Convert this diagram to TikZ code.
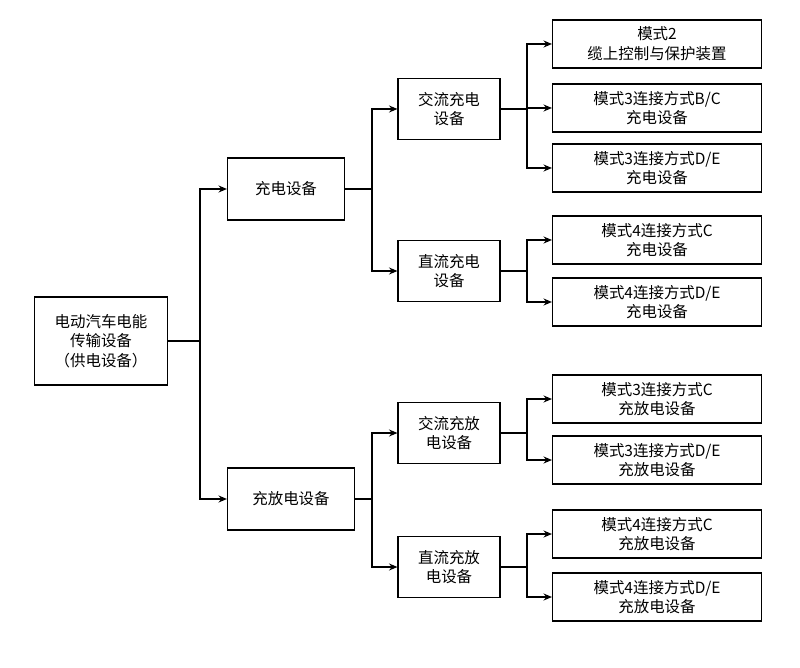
\documentclass[tikz,border=0pt]{standalone}
\usepackage{fontspec}
\setmainfont{Liberation Serif}
\newfontfamily\cjk{Noto Sans CJK SC}
\usetikzlibrary{arrows.meta,positioning}

\begin{document}
\begin{tikzpicture}[x=0.025cm,y=-0.025cm,
    box/.style={draw, thick, align=center, inner sep=2pt,
        font=\cjk\fontsize{11}{14}\selectfont},
    leaf/.style={box, minimum width=209*0.025cm, minimum height=48*0.025cm},
    mid/.style={box, minimum width=102*0.025cm, minimum height=61*0.025cm},
    link/.style={thick, -{Stealth[length=6pt,width=5pt]}}]
    \useasboundingbox (0,0) rectangle (800,668);

    % root and first level
    \node[box, minimum width=133*0.025cm, minimum height=88*0.025cm] (root) at (101,341)
        {电动汽车电能\\传输设备\\（供电设备）};
    \node[box, minimum width=117*0.025cm, minimum height=62*0.025cm] (chg) at (286,189) {充电设备};
    \node[box, minimum width=127*0.025cm, minimum height=62*0.025cm] (dis) at (291,499) {充放电设备};

    % second level
    \node[mid] (acChg) at (449,109) {交流充电\\设备};
    \node[mid] (dcChg) at (449,271) {直流充电\\设备};
    \node[mid] (acDis) at (449,433) {交流充放\\电设备};
    \node[mid] (dcDis) at (449,567) {直流充放\\电设备};

    % leaves
    \node[leaf] (l1) at (657,44) {模式2\\缆上控制与保护装置};
    \node[leaf] (l2) at (657,108) {模式3连接方式B/C\\充电设备};
    \node[leaf] (l3) at (657,168) {模式3连接方式D/E\\充电设备};
    \node[leaf] (l4) at (657,240) {模式4连接方式C\\充电设备};
    \node[leaf] (l5) at (657,302) {模式4连接方式D/E\\充电设备};
    \node[leaf] (l6) at (657,399) {模式3连接方式C\\充放电设备};
    \node[leaf] (l7) at (657,460) {模式3连接方式D/E\\充放电设备};
    \node[leaf] (l8) at (657,534) {模式4连接方式C\\充放电设备};
    \node[leaf] (l9) at (657,597) {模式4连接方式D/E\\充放电设备};

    % connectors
    \coordinate (s0) at (200,341);
    \draw[thick] (root.east) -- (s0);
    \draw[link] (s0) |- (chg.west);
    \draw[link] (s0) |- (dis.west);

    \coordinate (s1) at (372,189);
    \draw[thick] (chg.east) -- (s1);
    \draw[link] (s1) |- (acChg.west);
    \draw[link] (s1) |- (dcChg.west);

    \coordinate (s2) at (372,499);
    \draw[thick] (dis.east) -- (s2);
    \draw[link] (s2) |- (acDis.west);
    \draw[link] (s2) |- (dcDis.west);

    \coordinate (s3) at (527,109);
    \draw[thick] (acChg.east) -- (s3);
    \foreach \n in {l1,l2,l3} \draw[link] (s3) |- (\n.west);

    \coordinate (s4) at (527,271);
    \draw[thick] (dcChg.east) -- (s4);
    \foreach \n in {l4,l5} \draw[link] (s4) |- (\n.west);

    \coordinate (s5) at (527,433);
    \draw[thick] (acDis.east) -- (s5);
    \foreach \n in {l6,l7} \draw[link] (s5) |- (\n.west);

    \coordinate (s6) at (527,567);
    \draw[thick] (dcDis.east) -- (s6);
    \foreach \n in {l8,l9} \draw[link] (s6) |- (\n.west);
\end{tikzpicture}
\end{document}
